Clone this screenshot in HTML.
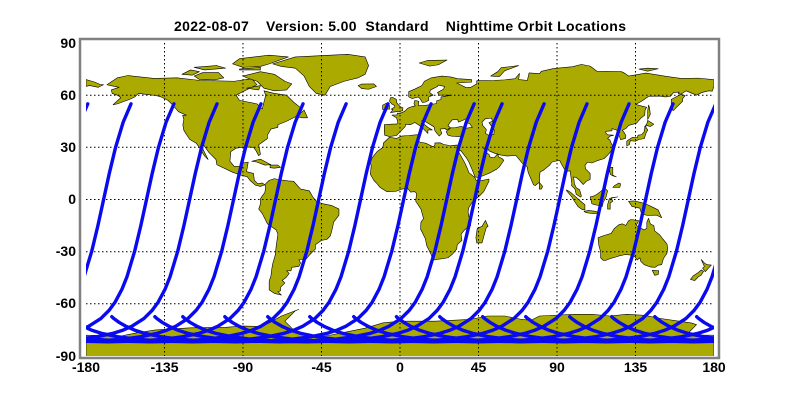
<!DOCTYPE html>
<html><head><meta charset="utf-8"><style>
html,body{margin:0;padding:0;background:#fff;}
svg{display:block;font-family:"Liberation Sans",Arial,sans-serif;}
</style></head><body>
<svg width="800" height="400" viewBox="0 0 800 400" xmlns="http://www.w3.org/2000/svg">
<defs>
<clipPath id="cp"><rect x="86" y="43" width="628" height="313"/></clipPath>
<path id="t" d="M0,55 L-4.51,44.42 L-8.94,29.66 L-12.49,14.84 L-15.71,0 L-18.94,-14.84 L-22.49,-29.66 L-26.92,-44.42 L-29.85,-51.75 L-33.71,-59 L-37.19,-63.76 L-41.92,-68.45 L-48.89,-72.9 L-53.8,-75.1 L-60.18,-77.1 L-68.69,-78.9 L-80.03,-80.4 L-94.71,-81.44 L-111.91,-81.8 L-129.1,-81.44 L-143.78,-80.4 L-155.12,-78.9 L-163.63,-77.1 L-170.01,-75.1 L-174.92,-72.9 L-178.77,-70.7 L-181.89,-68.45 L-183,-67.4" fill="none" stroke="#0a0af0" stroke-width="3.4" stroke-linejoin="round" stroke-linecap="round" vector-effect="non-scaling-stroke"/>
</defs>
<rect x="0" y="0" width="800" height="400" fill="#fff"/>
<text x="400" y="31" text-anchor="middle" font-size="14" font-weight="bold" textLength="452" style="white-space:pre" xml:space="preserve">2022-08-07    Version: 5.00  Standard    Nighttime Orbit Locations</text>
<g clip-path="url(#cp)">
<g transform="translate(400,199.5) scale(1.7444,-1.7389)" fill="#aaaa00" stroke="#000" stroke-width="0.6" stroke-linejoin="round">
<polygon vector-effect="non-scaling-stroke" points="-168,66 -162,70 -156,71.3 -141,69.6 -128,70 -115,68.5 -95,68 -85,69.5 -82,66 -94,60 -92,57 -82,55 -79,52 -77,60 -78,62.5 -72,61 -65,60 -61,56 -56,52 -60,47.5 -65,45 -70,43 -70,41.5 -74,40.5 -76,37 -76,35 -81,31.5 -80,26 -81,25.2 -82.5,28 -84,30 -89,30.2 -94,29.5 -97,27.5 -97.5,22 -95,19 -91,19 -90.5,21 -87,21.5 -88,16 -84,15 -83.5,11 -81.5,9 -79,9.5 -77.5,8.5 -80,7.5 -83,8.3 -86,11 -87.5,13 -91,14 -96,15.7 -105,20 -105.5,23 -109.5,27 -112.7,31.5 -113,29 -110,23 -112,25 -114,28 -115,30 -117,32.5 -120.5,34.5 -122.5,37.5 -124,40 -124.5,43 -123.9,46 -124.6,48.4 -122.5,48.5 -127,50.5 -130,54 -133,57 -137,59 -140,59.8 -146,60.5 -150,61 -152,59 -154,58 -158,56.5 -162,55 -164.5,54.5 -160,58.6 -162,60 -165,61 -165.5,63 -161,64.5 -166,65.5"/>
<polygon vector-effect="non-scaling-stroke" points="-73,78 -60,82 -30,83.5 -20,82 -18,77 -20,72 -24,70 -32,68 -40,65 -43,60 -48,61 -52,65 -54,69 -55,71 -60,75.5 -68,76.5"/>
<polygon vector-effect="non-scaling-stroke" points="-90,71 -80,73.5 -72,72 -66,68 -62,66.5 -65,63 -72,62.5 -78,64 -82,68 -88,70"/>
<polygon vector-effect="non-scaling-stroke" points="-118,71 -113,73 -104,73 -101,70 -106,68.8 -115,69"/>
<polygon vector-effect="non-scaling-stroke" points="-90,76 -80,76.5 -75,78 -64,82 -75,83 -92,81 -96,78"/>
<polygon vector-effect="non-scaling-stroke" points="-125,72 -120,74.5 -115,73.5 -119,71.5"/>
<polygon vector-effect="non-scaling-stroke" points="-92,75 -80,76 -80,74.5 -92,74.5"/>
<polygon vector-effect="non-scaling-stroke" points="-118,76 -105,77 -100,75.5 -112,74.5"/>
<polygon vector-effect="non-scaling-stroke" points="-88,64 -80,65.5 -81,63"/>
<polygon vector-effect="non-scaling-stroke" points="-85,22 -80,23.2 -74,20 -77.5,19.8 -82,21.5"/>
<polygon vector-effect="non-scaling-stroke" points="-74.5,19.8 -70,19.8 -68.5,18.5 -72,18 -74.5,18.3"/>
<polygon vector-effect="non-scaling-stroke" points="-59,47.6 -55,51.5 -53,47 -56,47"/>
<polygon vector-effect="non-scaling-stroke" points="-24,65.5 -22,66.4 -15,66.5 -13.5,65 -18,63.4 -22,63.8"/>
<polygon vector-effect="non-scaling-stroke" points="-77.5,8.5 -75,11 -72,12 -70,11.5 -64,10.7 -61,10.5 -57,6 -52,5 -50,1.5 -48,-1 -44,-2.5 -39,-3.5 -35,-5.5 -35,-9 -38,-13 -39,-17.5 -40,-21 -42,-23 -45,-23.5 -48.5,-26 -48.5,-28.5 -52,-32 -54,-34.5 -58,-34.5 -57,-36.5 -58,-38.5 -62,-39 -62.5,-41 -65,-41 -63.5,-42.5 -65.5,-45 -67.5,-46.5 -66,-48 -68.5,-50.5 -68.5,-52.5 -70,-53 -68,-55 -72,-54 -75,-52 -75,-47 -74,-44 -73.5,-40 -73,-37 -71.5,-32 -71,-27 -70,-20 -71,-17.5 -76,-14 -79,-8 -81,-5.5 -80,-2.5 -80,0.5 -79,2 -77.5,4 -77,7"/>
<polygon vector-effect="non-scaling-stroke" points="-9,43 -9,39 -8.8,37 -6,36.2 -2,36.8 0,38.8 3,42 3.2,43.3 6,43 8.5,44.3 10.5,43 12.5,41.5 16,38 16,40 18.5,40 16,41.5 13.5,43.5 12.5,45.5 14,45.3 15,44.5 19.5,41.8 20,39.5 22.5,36.5 24,38 23,40.5 26,40.8 26.5,40 29,41.2 26.5,39 27.5,37 30,36.3 33,36.2 36,36.5 35.5,33.5 34.3,31.3 32.5,30 34.5,28 35,28 38,24 39.5,21.5 41,18 43,13 45,12.7 48.5,14 52,15.5 55.5,17.5 57,18.8 59.5,22.5 58.5,23.6 56.5,24.5 56,26.3 54,24 51.5,24.5 51,26 50,26.5 48,29.5 50,30 51,28 54,26.7 57,25.7 61.5,25 66.5,25.3 68,23.5 70,21 72.8,19 73.5,15.5 75,12 76.5,8.5 77.5,8 80,10 80,13 80.3,15.8 82.5,17 86,20 87,21.5 89,22 91.5,22.5 92.5,20.5 94.5,17 94.5,16 97.5,16.5 98,13 98.5,9 98.3,8 100.3,6 101,3 103.5,1.4 104,2 103,5.5 101,6.8 100,9 99.5,13 101,12.7 103,11 105,8.6 106.7,10.4 109,11.5 109,15 106.5,17.5 106,19.5 107.5,21.5 110,21 113,22.3 117,23.5 119.5,26 121.5,28.5 122,30.8 121,32.5 120.3,34.3 119,35 120.5,36.5 122.5,37 119,37.2 118,38.3 118,39.2 121.5,39.5 121.5,40.8 122.3,40.5 124.3,39.9 125.2,37.7 126.5,34.4 129.3,35.2 129.5,36.8 128.5,38.5 127.5,39.8 129.7,41 131,42.6 135.5,43.8 138,46.7 140.3,48.5 140.5,51.5 141.4,53 137.5,54 135.2,54.7 138.5,56.5 142.5,59.3 149,59.5 152,59 155,59.3 156.8,61.5 160,61.8 159.5,61 163.5,59.8 162,58 162,56.5 156.5,51 155.5,55.5 155.5,57.5 161,60.5 164,62.5 170,60 173,61.5 177,62.5 179,62.3 180,65 180,68.9 171,69.8 161,69.6 152,70.9 141,72.7 131,71 129,72.5 127,73.5 113,73.7 109,76.7 104,77.7 99,76.4 88,75.3 81,73.7 80,72.4 74,72.8 73,68.5 68,69 68.5,72.5 66,69.5 60,68.8 54,68.5 44,68.3 44,66.5 40.5,64.5 38,64.3 34.8,65.9 32.5,67 41,67.5 41,69 33,69.5 29,70.5 24,71 18,70 14,68 12.5,65.5 8.5,63.5 5,62 5,59 7,58 10.5,59 11.5,58 12.8,55.8 14.5,56 16.5,57 16.5,59 19,60 17,61.5 17.5,63 21.5,65 22,65.8 25.5,65 25,63.5 21.5,61.5 22.5,60 29.5,60 23.5,59 23.5,57.5 21,56.8 21,55.2 14,54 10.5,54 10.8,56.5 8.5,57 8,55 8.8,53.8 7,53.5 4.5,52.5 3,51 1.6,50.2 0,49.5 -1.5,49.7 -1.8,48.6 -4.6,48.6 -3,47.5 -2,47 -1.2,44.5 -1.8,43.4 -4,43.4"/>
<polygon vector-effect="non-scaling-stroke" fill="#fff" points="27.5,42.5 28.5,44 30,45.8 33,46 33.5,44.5 36,45.5 39,47 38,44.5 40,43.5 41.5,41.5 38,41 35,42 31,41.2 29,41.2"/>
<polygon vector-effect="non-scaling-stroke" fill="#fff" points="47,44.5 49,46.5 52.5,46.8 53,45 51,44.2 52.7,41.8 54,40 53.8,37.5 51,36.7 49,38 49.5,40.2 47.5,42.5"/>
<polygon vector-effect="non-scaling-stroke" points="-180,69 -175,67.5 -172,66.2 -170,66 -173,64.5 -178,65.5 -180,65"/>
<polygon vector-effect="non-scaling-stroke" points="-17,21 -16,24 -13,27.7 -9.8,30 -9.5,32.5 -6,35.8 -2,35.1 1,36.5 5,36.8 10,37.3 11,35 10,34 11.5,33 15,32.3 19,30.3 20,31.2 20,32.5 23,32.6 25,31.7 29,30.9 32.3,31.3 34.2,31.2 32.5,30 33.5,27.5 35.5,24 37.2,21 38.5,18 39.5,15.5 43,12.5 43.3,11.5 44.5,10.4 51,11.8 51,10.5 48,4.5 45.5,2 41.5,-1.5 39.5,-4.5 39,-7 39.5,-10 40.5,-11 40.5,-15 37,-17.5 35,-20 35.5,-23.5 32.8,-26 32.5,-28.5 30,-31.5 27.5,-33.5 25,-34 22,-34.3 20,-34.8 18.4,-34 18,-32 15.3,-26.5 14.5,-22.5 11.8,-17 12,-13 13.5,-11 12,-5.5 9,-1 9.5,3.5 8.5,4.5 6,4.3 4.5,6.3 1,6 -2,4.8 -7.5,4.5 -11.5,7 -13.5,9.5 -15,11 -17,14.5 -16.5,19.5"/>
<polygon vector-effect="non-scaling-stroke" points="44,-25 47,-25 49.5,-16 50.5,-15.5 49,-12 47,-15.5 44.3,-16.5 43.5,-22"/>
<polygon vector-effect="non-scaling-stroke" points="-5.5,50 1.5,51 1.7,52.7 0,53.5 -1.8,55.5 -2,57.5 -4,58.6 -5.5,58.5 -6,56.5 -4.8,55 -3,54 -3,53.3 -5,52 -4,51.5"/>
<polygon vector-effect="non-scaling-stroke" points="-10,51.8 -6,52 -6,54 -8,55.3 -10,54.2"/>
<polygon vector-effect="non-scaling-stroke" points="130,31 131.5,31.5 132,33.8 135,33.5 137,34.5 140,35 141,38 142,40 141,41.5 140,40.5 140,39 138.5,37.3 136.5,37 136,35.5 133,35.6 131,34.3 130,33.5"/>
<polygon vector-effect="non-scaling-stroke" points="140,41.5 141.5,42.5 143.5,42 145.5,43.3 142,45.5 141.5,43.5"/>
<polygon vector-effect="non-scaling-stroke" points="142,46 143.5,49 143,53 142.5,54.3 142,51"/>
<polygon vector-effect="non-scaling-stroke" points="120,18.5 122,18.5 122,14 124,13 122,13.6 120.5,14.5"/>
<polygon vector-effect="non-scaling-stroke" points="122,7 126,7 126.5,9 125.5,9.5 123,8"/>
<polygon vector-effect="non-scaling-stroke" points="109,1.5 110,-2.5 113,-3.3 116,-4 116.5,-1.5 118,1 119,5 117,7 115.5,5 113,3 111,2"/>
<polygon vector-effect="non-scaling-stroke" points="95.5,5.5 98,4 103,-0.5 106,-3 106,-6 104.5,-5.8 102,-4 100,-1 98.5,1.5 95.5,5"/>
<polygon vector-effect="non-scaling-stroke" points="105.5,-6.8 108,-6.3 112,-6.8 114.5,-7.8 111,-8.2 106.5,-7.5"/>
<polygon vector-effect="non-scaling-stroke" points="119,-5.5 120.5,-5.5 120.5,-2 122,-1 121,1 124.8,1.5 120,0.5 119,-3"/>
<polygon vector-effect="non-scaling-stroke" points="131,-1 134,-0.8 138,-1.7 141,-2.6 145,-4.5 148,-6 150,-10.5 147,-9 143.5,-9.1 142,-9.2 138.5,-8.3 137.5,-5 133,-4 132,-2.5"/>
<polygon vector-effect="non-scaling-stroke" points="113.5,-22 114,-26.5 115,-30 115,-33.5 116.5,-35 118,-35 121,-33.8 124,-33 126,-32.3 129,-31.7 132,-31.9 134.5,-32.8 136,-34.8 137.5,-33.5 138,-35.5 140,-37.5 143.5,-38.8 146.3,-39 148,-37.8 150,-37.5 151,-34 153,-31 153.5,-28 153,-25.5 150.5,-22.5 149,-20.5 146,-18 145.5,-15 143.5,-14 142.5,-10.8 141.5,-13 141.5,-16.5 140,-17.5 137,-16 135.5,-14.8 136.8,-12.2 132.5,-11.5 131,-12.2 129.5,-14.9 127.5,-14 125.5,-14.5 123,-16.5 122,-18 121,-19.5 117,-20.7 114,-21.8"/>
<polygon vector-effect="non-scaling-stroke" points="144.6,-40.7 148.3,-40.9 148,-43.2 146,-43.6"/>
<polygon vector-effect="non-scaling-stroke" points="172.7,-34.5 174.5,-36.5 176,-37.5 178.5,-37.7 177,-39.3 175,-41.5 173.5,-39.5 174.5,-38.5"/>
<polygon vector-effect="non-scaling-stroke" points="172.7,-40.5 174,-41.3 172.7,-43.5 171,-44.5 169,-46.6 166.5,-46 168,-44 171,-42"/>
<polygon vector-effect="non-scaling-stroke" points="79.8,6 80,9.7 81.8,7.5 81,6"/>
<polygon vector-effect="non-scaling-stroke" points="11,78.5 16,80 27,80.2 22,77.5 17,76.7"/>
<polygon vector-effect="non-scaling-stroke" points="52,71 56,73.5 58,75.8 68,77 60,74 57,70.7"/>
<polygon vector-effect="non-scaling-stroke" points="137,75 142,75.5 148,75.2 142,73.8"/>
<polygon vector-effect="non-scaling-stroke" points="-180,-78 -160,-78.5 -150,-76.5 -140,-75 -120,-73.8 -100,-73.5 -90,-72.8 -80,-73 -75,-71 -68,-67 -58,-63.2 -60,-64 -63,-67 -66,-70 -62,-74 -60,-76 -50,-78 -40,-78 -30,-76 -20,-74 -10,-71 0,-70 10,-70 20,-70 30,-69.5 40,-69 50,-67 60,-67 70,-69 75,-69.5 80,-67 90,-66.5 100,-66 110,-66 120,-67 130,-66 140,-66.6 150,-68.5 160,-70 167,-71 170,-72 165,-77 170,-78 180,-78 180,-91 -180,-91"/>
</g>
<g stroke="#000" stroke-width="1" stroke-dasharray="1.5,2.5" fill="none">
<line x1="164.5" y1="43" x2="164.5" y2="356"/>
<line x1="243" y1="43" x2="243" y2="356"/>
<line x1="321.5" y1="43" x2="321.5" y2="356"/>
<line x1="400" y1="43" x2="400" y2="356"/>
<line x1="478.5" y1="43" x2="478.5" y2="356"/>
<line x1="557" y1="43" x2="557" y2="356"/>
<line x1="635.5" y1="43" x2="635.5" y2="356"/>
<line x1="86" y1="95.2" x2="714" y2="95.2"/>
<line x1="86" y1="147.3" x2="714" y2="147.3"/>
<line x1="86" y1="199.5" x2="714" y2="199.5"/>
<line x1="86" y1="251.7" x2="714" y2="251.7"/>
<line x1="86" y1="303.8" x2="714" y2="303.8"/>
</g>
<g transform="translate(400,199.5) scale(1.7444,-1.7389)">
<use href="#t" transform="translate(-154.2,0)"/><use href="#t" transform="translate(205.8,0)"/>
<use href="#t" transform="translate(-129.6,0)"/><use href="#t" transform="translate(230.4,0)"/>
<use href="#t" transform="translate(-104.9,0)"/><use href="#t" transform="translate(255.1,0)"/>
<use href="#t" transform="translate(-79.7,0)"/><use href="#t" transform="translate(280.3,0)"/>
<use href="#t" transform="translate(-55.6,0)"/><use href="#t" transform="translate(304.4,0)"/>
<use href="#t" transform="translate(-30.9,0)"/><use href="#t" transform="translate(329.1,0)"/>
<use href="#t" transform="translate(-6.9,0)"/><use href="#t" transform="translate(353.1,0)"/>
<use href="#t" transform="translate(17.8,0)"/><use href="#t" transform="translate(377.8,0)"/>
<use href="#t" transform="translate(42.5,0)"/><use href="#t" transform="translate(402.5,0)"/>
<use href="#t" transform="translate(58.5,0)"/><use href="#t" transform="translate(418.5,0)"/>
<use href="#t" transform="translate(82.6,0)"/><use href="#t" transform="translate(442.6,0)"/>
<use href="#t" transform="translate(107.2,0)"/><use href="#t" transform="translate(467.2,0)"/>
<use href="#t" transform="translate(131.3,0)"/><use href="#t" transform="translate(491.3,0)"/>
<use href="#t" transform="translate(156.5,0)"/><use href="#t" transform="translate(516.5,0)"/>
<use href="#t" transform="translate(181,0)"/><use href="#t" transform="translate(-179,0)"/>
</g>
</g>
<rect x="80" y="39" width="639" height="319" fill="none" stroke="#808080" stroke-width="2.5"/>
<g font-size="14" font-weight="bold" fill="#000" text-anchor="end">
<text x="76" y="48">90</text>
<text x="76" y="100">60</text>
<text x="76" y="152">30</text>
<text x="76" y="204">0</text>
<text x="76" y="256">-30</text>
<text x="76" y="308">-60</text>
<text x="76" y="361">-90</text>
</g>
<g font-size="14" font-weight="bold" fill="#000" text-anchor="middle">
<text x="86" y="372">-180</text>
<text x="164.5" y="372">-135</text>
<text x="243" y="372">-90</text>
<text x="321.5" y="372">-45</text>
<text x="400" y="372">0</text>
<text x="478.5" y="372">45</text>
<text x="557" y="372">90</text>
<text x="635.5" y="372">135</text>
<text x="714" y="372">180</text>
</g>
</svg>
</body></html>
